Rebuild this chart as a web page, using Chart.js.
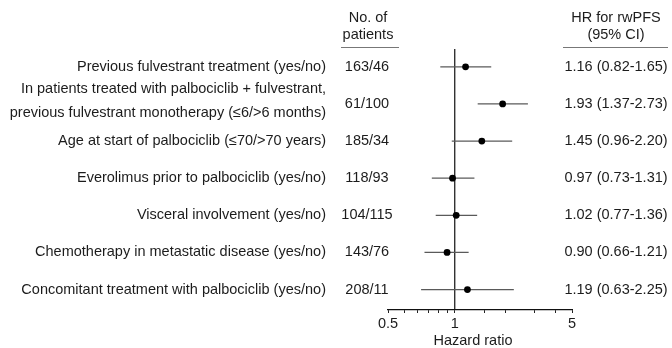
<!DOCTYPE html>
<html>
<head>
<meta charset="utf-8">
<script src="https://cdn.jsdelivr.net/npm/chart.js@4/dist/chart.umd.min.js"></script>
<style>
  html, body { margin: 0; padding: 0; background: #ffffff; }
  #wrap { width: 672px; height: 348px; position: relative; }
</style>
</head>
<body>
<div id="wrap"><canvas id="c" width="672" height="348"></canvas></div>
<script>
// ---- data ----
const categories = [
  ["Previous fulvestrant treatment (yes/no)"],
  ["In patients treated with palbociclib + fulvestrant,", "previous fulvestrant monotherapy (\u22646/>6 months)"],
  ["Age at start of palbociclib (\u226470/>70 years)"],
  ["Everolimus prior to palbociclib (yes/no)"],
  ["Visceral involvement (yes/no)"],
  ["Chemotherapy in metastatic disease (yes/no)"],
  ["Concomitant treatment with palbociclib (yes/no)"]
];
const patientCounts = ["163/46", "61/100", "185/34", "118/93", "104/115", "143/76", "208/11"];
const hazardRatios = [1.16, 1.93, 1.45, 0.97, 1.02, 0.90, 1.19];
const ciLower = [0.82, 1.37, 0.96, 0.73, 0.77, 0.66, 0.63];
const ciUpper = [1.65, 2.73, 2.20, 1.31, 1.36, 1.21, 2.25];
const xTickValues = [0.4, 1, 5];
const xTickLabels = ["0.5", "1", "5"];
const headerCounts = ["No. of", "patients"];
const headerHR = ["HR for rwPFS", "(95% CI)"];
const xAxisTitle = "Hazard ratio";

// ---- chart ----
const FONT = "'Liberation Sans', Arial, sans-serif";
const FS = 14.5;
const TEXT = "#1c1c1c";
const Y_MIN = -0.48, Y_MAX = 6.55;

const datasets = [];
// reference line at HR = 1
datasets.push({
  type: 'line',
  data: [{x: 1, y: Y_MIN}, {x: 1, y: Y_MAX}],
  borderColor: '#111', borderWidth: 1.2, pointRadius: 0, fill: false, order: 3
});
// CI whiskers
categories.forEach((c, i) => {
  datasets.push({
    type: 'line',
    data: [{x: ciLower[i], y: i}, {x: ciUpper[i], y: i}],
    borderColor: '#5a5a5a', borderWidth: 1.2, pointRadius: 0, fill: false, order: 2
  });
});
// point estimates
datasets.push({
  type: 'scatter',
  data: hazardRatios.map((v, i) => ({x: v, y: i})),
  backgroundColor: '#000', borderColor: '#000', pointRadius: 3.4, borderWidth: 0, order: 1
});

const textPlugin = {
  id: 'forestText',
  afterDraw(chart) {
    const ctx = chart.ctx;
    const ys = chart.scales.y;
    ctx.save();
    ctx.fillStyle = TEXT;
    ctx.font = FS + "px " + FONT;
    ctx.textBaseline = 'middle';
    categories.forEach((lines, i) => {
      const py = ys.getPixelForValue(i);
      ctx.textAlign = 'right';
      if (lines.length === 1) {
        ctx.fillText(lines[0], 326, py);
      } else {
        ctx.fillText(lines[0], 326, py - 15);
        ctx.fillText(lines[1], 326, py + 9);
      }
      ctx.textAlign = 'center';
      ctx.fillText(patientCounts[i], 367, py);
      const hr = hazardRatios[i].toFixed(2) + " (" + ciLower[i].toFixed(2) + "-" + ciUpper[i].toFixed(2) + ")";
      ctx.fillText(hr, 616, py);
    });
    // headers
    ctx.textAlign = 'center';
    ctx.fillText(headerCounts[0], 368, 18);
    ctx.fillText(headerCounts[1], 368, 35);
    ctx.fillText(headerHR[0], 616, 18);
    ctx.fillText(headerHR[1], 616, 35);
    ctx.strokeStyle = '#777';
    ctx.lineWidth = 1.2;
    ctx.beginPath();
    ctx.moveTo(341, 47.5); ctx.lineTo(399, 47.5);
    ctx.moveTo(563, 47.5); ctx.lineTo(668, 47.5);
    ctx.stroke();
    // axis title
    ctx.fillText(xAxisTitle, 473, 341);
    ctx.restore();
  }
};

new Chart(document.getElementById('c'), {
  data: { datasets },
  options: {
    responsive: false,
    animation: false,
    layout: { padding: { left: 388, right: 100, top: 49, bottom: 0 } },
    plugins: { legend: { display: false }, tooltip: { enabled: false } },
    scales: {
      x: {
        type: 'logarithmic',
        min: 0.4, max: 5,
        afterFit: (s) => { s.height = 38; },
        border: { display: true, color: '#111', width: 1.2 },
        grid: { display: true, drawOnChartArea: false, drawTicks: true, tickLength: 3, color: '#222', lineWidth: 1 },
        ticks: {
          autoSkip: false, maxRotation: 0, padding: 2,
          color: TEXT, font: { size: FS, family: FONT },
          callback: (v) => {
            const k = xTickValues.findIndex(t => Math.abs(t - v) < 1e-6);
            return k >= 0 ? xTickLabels[k] : '';
          }
        }
      },
      y: {
        type: 'linear', min: Y_MIN, max: Y_MAX, reverse: true, display: false
      }
    }
  },
  plugins: [textPlugin]
});
</script>
</body>
</html>
